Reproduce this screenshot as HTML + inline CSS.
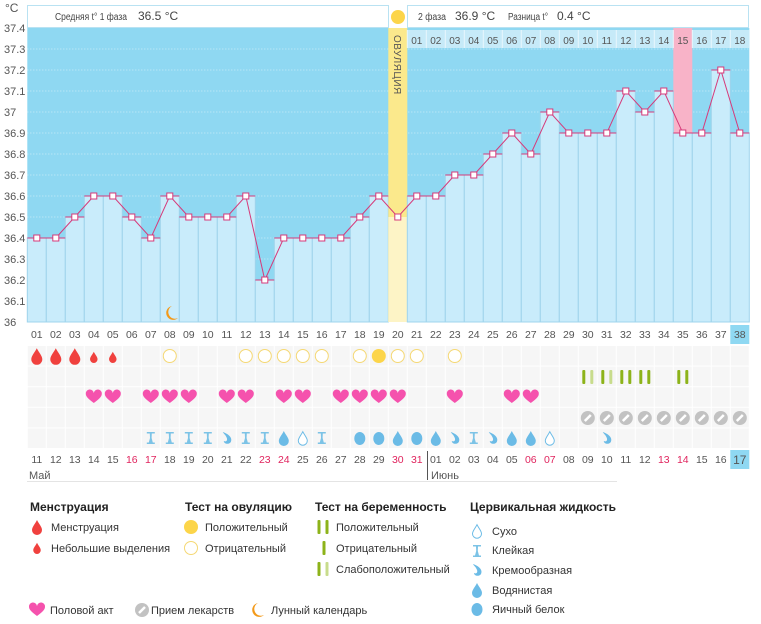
<!DOCTYPE html>
<html><head><meta charset="utf-8">
<style>
body{margin:0;background:#fff;width:761px;height:619px;overflow:hidden;font-family:"Liberation Sans",sans-serif}
svg text{font-family:"Liberation Sans",sans-serif}
</style></head><body>
<svg id="s" width="761" height="619" xmlns="http://www.w3.org/2000/svg"></svg>
<script>
const S=document.getElementById('s');let h='';
const X0=27.3,W=19,Y=v=>28+(37.4-v)*210;
const cx=i=>X0+W*(i-1)+W/2;
const T=[36.4,36.4,36.5,36.6,36.6,36.5,36.4,36.6,36.5,36.5,36.5,36.6,36.2,36.4,36.4,36.4,36.4,36.5,36.6,36.5,36.6,36.6,36.7,36.7,36.8,36.9,36.8,37.0,36.9,36.9,36.9,37.1,37.0,37.1,36.9,36.9,37.2,36.9];
// header
h+=`<text x="5" y="12" font-size="12" fill="#555">°C</text>`;
h+=`<rect x="27.5" y="5.5" width="361" height="22" fill="#fff" stroke="#b9e2f2"/>`;
h+=`<rect x="407.5" y="5.5" width="341" height="22" fill="#fff" stroke="#b9e2f2"/>`;
h+=`<circle cx="398" cy="17" r="7" fill="#fcd54a"/>`;
h+=`<text x="55" y="20" font-size="10" fill="#444" textLength="72" lengthAdjust="spacingAndGlyphs">Средняя t° 1 фаза</text><text x="138" y="20" font-size="12" fill="#444">36.5 °C</text>`;
h+=`<text x="418" y="20" font-size="10" fill="#444" textLength="28" lengthAdjust="spacingAndGlyphs">2 фаза</text><text x="455" y="20" font-size="12" fill="#444">36.9 °C</text>`;
h+=`<text x="508" y="20" font-size="10" fill="#444" textLength="40" lengthAdjust="spacingAndGlyphs">Разница t°</text><text x="557" y="20" font-size="12" fill="#444">0.4 °C</text>`;
// chart bg
h+=`<rect x="${X0}" y="28" width="${W*38}" height="294" fill="#8fd8f2"/>`;
for(let k=1;k<14;k++){const y=28+k*21;h+=`<line x1="${X0}" x2="${X0+W*38}" y1="${y}" y2="${y}" stroke="#c9ecf8" stroke-dasharray="1,2"/>`}
h+=`<rect x="${X0+W*34}" y="28" width="${W}" height="${Y(36.9)-28}" fill="#f8b3c8"/>`;
h+=`<rect x="${X0+W*20}" y="30" width="${W*18}" height="18" fill="#c6eaf8"/>`;
h+=`<rect x="${X0+W*34}" y="30" width="${W}" height="18" fill="#f8b3c8"/>`;
for(let i=1;i<=38;i++){const x=X0+W*(i-1),y=Y(T[i-1]);
 if(i==20){h+=`<rect x="${x}" y="28" width="${W}" height="294" fill="#fbe98c"/><rect x="${x}" y="${y}" width="${W}" height="${322-y}" fill="#fdf4c6"/>`;continue}
 h+=`<rect x="${x}" y="${y}" width="${W}" height="${322-y}" fill="#c9ecfb" stroke="#9fd4ec" stroke-width="1"/>`;}
for(let i=21;i<=38;i++){h+=`<line x1="${X0+W*(i-1)}" x2="${X0+W*(i-1)}" y1="30" y2="48" stroke="#e8f7fd"/>`;
 h+=`<text x="${cx(i)}" y="44" font-size="10" fill="#555" text-anchor="middle">${String(i-20).padStart(2,'0')}</text>`}
h+=`<text transform="translate(${cx(20)-4},35) rotate(90)" font-size="10" fill="#555" letter-spacing="0.5">ОВУЛЯЦИЯ</text>`;
let p='';for(let i=1;i<=38;i++)p+=(i==1?'M':'L')+cx(i)+','+Y(T[i-1]);
for(let i=1;i<=38;i++){if(i==20)continue;const y=Y(T[i-1]);h+=`<line x1="${X0+W*(i-1)}" x2="${X0+W*i}" y1="${y}" y2="${y}" stroke="#d63a7a"/>`}
h+=`<path d="${p}" fill="none" stroke="#d63a7a" stroke-width="1"/>`;
for(let i=1;i<=38;i++)h+=`<rect x="${cx(i)-3}" y="${Y(T[i-1])-3}" width="6" height="6" fill="#fff" stroke="#d63a7a"/>`;
for(let k=0;k<=14;k++){const v=(37.4-k*0.1);let s=(Math.round(v*10)/10).toString();h+=`<text x="4" y="${28+k*21+4}" font-size="11" fill="#555">${s}</text>`}
h+=`<path d="M172,306 A7,7 0 1 0 178,318 A6,6 0 0 1 172,306Z" fill="#f39a1a"/>`;
for(let r=0;r<5;r++)for(let i=1;i<=38;i++)h+=`<rect x="${X0+W*(i-1)+0.5}" y="${346+r*20.6}" width="${W-1}" height="19.6" fill="#f6f6f6"/>`;
h+=`<rect x="${X0+W*37}" y="325" width="${W}" height="19" fill="#8fd8f2"/><rect x="${X0+W*37}" y="450" width="${W}" height="19" fill="#8fd8f2"/>`;
for(let i=1;i<=38;i++){h+=`<text x="${cx(i)}" y="338" font-size="10.5" fill="#555" text-anchor="middle">${String(i).padStart(2,'0')}</text>`;
 let d=i<=21?i+10:i-21;let rd=[16,17,23,24,30,31].includes(d)&&i<=21||[6,7,13,14].includes(d)&&i>21;
 h+=`<text x="${cx(i)}" y="${i==38?464:463}" font-size="${i==38?12:10.5}" fill="${rd?'#e0245e':'#555'}" text-anchor="middle">${String(d).padStart(2,'0')}</text>`}
h+=`<text x="29" y="479" font-size="11" fill="#555">Май</text><text x="431" y="479" font-size="11" fill="#555">Июнь</text>`;
h+=`<line x1="427.5" x2="427.5" y1="451" y2="480" stroke="#555"/><line x1="27" x2="617" y1="481.5" y2="481.5" stroke="#e4e4e4"/>`;
const drop=(x,y,s,f,st)=>`<path transform="translate(${x},${y}) scale(${s})" d="M0,-7 C2,-3 5,0 5,3 A5,5 0 0 1 -5,3 C-5,0 -2,-3 0,-7Z" fill="${f}" ${st?`stroke="${st}" stroke-width="${1/s}"`:''}/>`;
const heart=(x,y)=>`<path transform="translate(${x},${y})" d="M0,6 C-4,3 -8,0 -8,-3 A4,4 0 0 1 0,-4 A4,4 0 0 1 8,-3 C8,0 4,3 0,6Z" fill="#f552ad"/>`;
const circ=(x,y,pos)=>pos?`<circle cx="${x}" cy="${y}" r="7" fill="#fcd54a"/>`:`<circle cx="${x}" cy="${y}" r="6.5" fill="#fff" stroke="#f5d874"/>`;
const pill=(x,y)=>`<circle cx="${x}" cy="${y}" r="7" fill="#c2c2c2"/><line x1="${x-3}" y1="${y+3}" x2="${x+3}" y2="${y-3}" stroke="#fff" stroke-width="2.5"/>`;
const bar=(x,y,c)=>`<rect x="${x-1.5}" y="${y-7}" width="3" height="14" rx="1" fill="${c}"/>`;
const sticky=(x,y)=>`<path transform="translate(${x},${y})" d="M-4,-6 H4 V-4.5 H1 L0.8,0 L2,4.5 H4 V6 H-4 V4.5 H-2 L-0.8,0 L-1,-4.5 H-4Z" fill="#7cc3e6"/>`;
const creamy=(x,y)=>`<path transform="translate(${x},${y})" d="M-4,-6 C2,-4 6,0 4,4 C2,7 -3,6 -3,3 C-1,4 1,3 0,0 C-1,-3 -3,-4 -4,-6Z" fill="#6bbbe6"/>`;
const egg=(x,y)=>`<ellipse cx="${x}" cy="${y+0.5}" rx="5.5" ry="6.5" fill="#6bbbe6"/>`;
const water=(x,y)=>drop(x,y,1,'#6bbbe6');
const dry=(x,y)=>drop(x,y,0.9,'#fff','#6bbbe6');
const r1=356,r2=377,r3=397,r4=418,r5=438;
[1,2,3].forEach(i=>h+=drop(cx(i),r1,1.1,'#f0413e'));[4,5].forEach(i=>h+=drop(cx(i),r1+1,0.75,'#f0413e'));
[8,12,13,14,15,16,18,20,21,23].forEach(i=>h+=circ(cx(i),r1,0));h+=circ(cx(19),r1,1);
const dk='#8db31a',lt='#c8dc8c';
[[30,dk,lt],[31,dk,lt],[32,dk,dk],[33,dk,dk],[35,dk,dk]].forEach(([i,a,b])=>{h+=bar(cx(i)-4,r2,a)+bar(cx(i)+4,r2,b)});
[4,5,7,8,9,11,12,14,15,17,18,19,20,23,26,27].forEach(i=>h+=heart(cx(i),r3));
for(let i=30;i<=38;i++)h+=pill(cx(i),r4);
const cv={7:sticky,8:sticky,9:sticky,10:sticky,11:creamy,12:sticky,13:sticky,14:water,15:dry,16:sticky,18:egg,19:egg,20:water,21:egg,22:water,23:creamy,24:sticky,25:creamy,26:water,27:water,28:dry,31:creamy};
for(const k in cv)h+=cv[k](cx(+k),r5);
// legend
const L=(x,y,t,b)=>`<text x="${x}" y="${y}" font-size="${b?12:11}" ${b?'font-weight="bold" fill="#222"':'fill="#333"'}>${t}</text>`;
h+=L(30,511,'Менструация',1)+L(185,511,'Тест на овуляцию',1)+L(315,511,'Тест на беременность',1)+L(470,511,'Цервикальная жидкость',1);
h+=drop(37,527,1,'#f0413e')+L(51,531,'Менструация')+drop(37,548,0.75,'#f0413e')+L(51,552,'Небольшие выделения');
h+=circ(191,527,1)+L(205,531,'Положительный')+circ(191,548,0)+L(205,552,'Отрицательный');
h+=bar(319,527,dk)+bar(327,527,dk)+L(336,531,'Положительный');
h+=bar(324,548,dk)+L(336,552,'Отрицательный');
h+=bar(319,569,dk)+bar(327,569,lt)+L(336,573,'Слабоположительный');
h+=dry(477,531)+L(492,535,'Сухо')+sticky(477,551)+L(492,554,'Клейкая')+creamy(477,570)+L(492,574,'Кремообразная')+water(477,590)+L(492,594,'Водянистая')+egg(477,609)+L(492,613,'Яичный белок');
h+=heart(37,610)+L(50,614,'Половой акт')+pill(142,610)+L(151,614,'Прием лекарств')+`<path d="M258,603 A7,7 0 1 0 264,615 A6,6 0 0 1 258,603Z" fill="#f39a1a"/>`+L(271,614,'Лунный календарь');
S.innerHTML=h;
</script>
</body></html>
